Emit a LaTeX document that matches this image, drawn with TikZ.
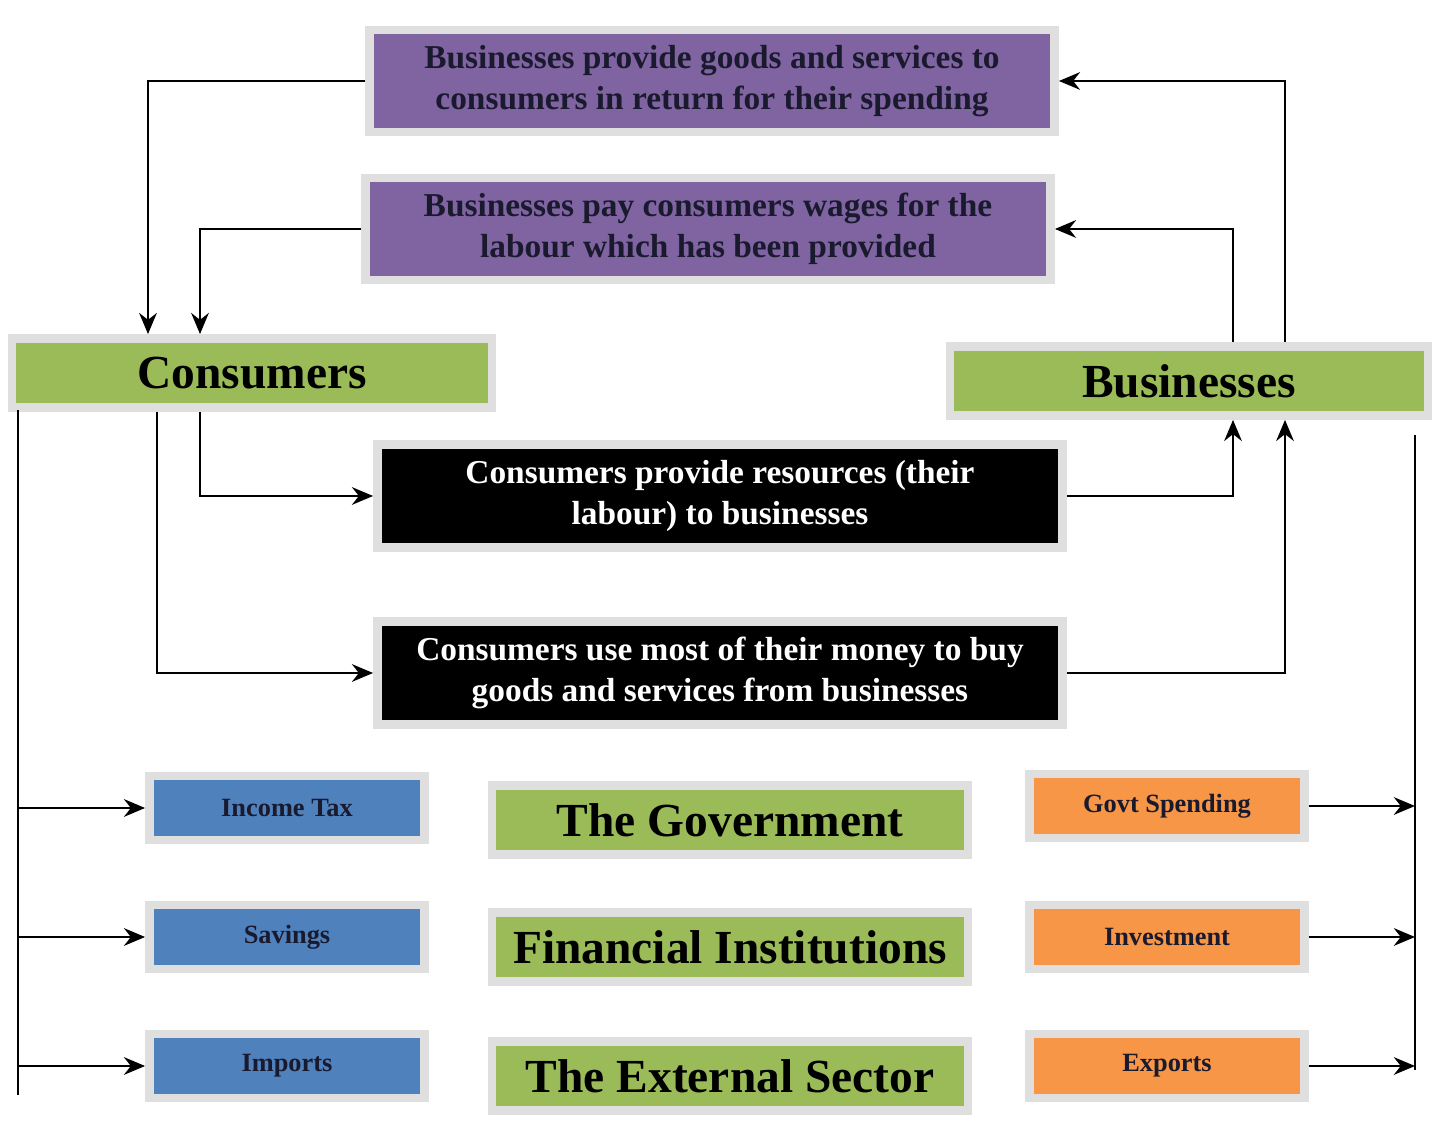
\documentclass[tikz,border=0pt]{standalone}
\usepackage{fontspec}
\setmainfont{Liberation Serif}
\usetikzlibrary{positioning,arrows.meta}
\definecolor{purplebox}{HTML}{8064A2}
\definecolor{greenbox}{HTML}{9BBB59}
\definecolor{bluebox}{HTML}{4F81BD}
\definecolor{orangebox}{HTML}{F79646}
\definecolor{inktext}{HTML}{1A1A2E}
\tikzset{
  box/.style={draw=gray!25, line width=2.5pt, inner sep=0pt, align=center, font=\bfseries},
  flowbox/.style={box, fill=purplebox, text=inktext, minimum width=6.85cm, minimum height=1.02cm, font=\bfseries\fontsize{9.5}{11.5}\selectfont},
  darkbox/.style={box, fill=black, text=white, minimum width=6.85cm, minimum height=1.03cm, font=\bfseries\fontsize{9.5}{11.5}\selectfont},
  sectorbox/.style={box, fill=greenbox, text=black, minimum width=4.76cm, minimum height=0.69cm, font=\bfseries\fontsize{13.5}{15}\selectfont},
  leakbox/.style={box, fill=bluebox, text=inktext, minimum width=2.75cm, minimum height=0.64cm, font=\bfseries\fontsize{7.5}{9}\selectfont},
  injectbox/.style={box, fill=orangebox, text=inktext, minimum width=2.75cm, minimum height=0.64cm, font=\bfseries\fontsize{7.5}{9}\selectfont},
  flow/.style={-{Stealth[length=6pt,width=5pt]}, thick}
}
\begin{document}
\begin{tikzpicture}
          \useasboundingbox[fill=white] (0,0) rectangle (14.4,11.4);
          % Define the flow boxes
          \node[flowbox] (goods) at (7.12,10.59) {Businesses provide goods and services to\\consumers in return for their spending};
          \node[flowbox] (wages) at (7.08,9.11) {Businesses pay consumers wages for the\\labour which has been provided};
          \node[darkbox] (labour) at (7.2,6.44) {Consumers provide resources (their\\labour) to businesses};
          \node[darkbox] (spend) at (7.2,4.67) {Consumers use most of their money to buy\\goods and services from businesses};

          % Define the sector boxes
          \node[sectorbox, minimum width=4.8cm] (cons) at (2.52,7.67) {Consumers};
          \node[sectorbox, minimum width=4.78cm] (bus) at (11.89,7.59) {Businesses};
          \node[sectorbox] (gov) at (7.3,3.2) {The Government};
          \node[sectorbox] (fin) at (7.3,1.93) {Financial Institutions};
          \node[sectorbox] (ext) at (7.3,0.64) {The External Sector};

          % Define the leakages and injections
          \node[leakbox] (tax) at (2.87,3.32) {Income Tax};
          \node[leakbox] (sav) at (2.87,2.03) {Savings};
          \node[leakbox] (imp) at (2.87,0.74) {Imports};
          \node[injectbox] (govsp) at (11.67,3.34) {Govt Spending};
          \node[injectbox] (inv) at (11.67,2.03) {Investment};
          \node[injectbox] (exp) at (11.67,0.74) {Exports};

          % Connector ends on the left and right rails
          \coordinate (lrailtop) at (0.18,7.3);
          \coordinate (lrailbot) at (0.18,0.45);
          \coordinate (rrailtop) at (14.15,7.05);
          \coordinate (rrailbot) at (14.15,0.7);

          % Draw the arrows round the circular flow
          \draw[flow] (goods.west) -| ([xshift=-1.04cm]cons.north);
          \draw[flow] (wages.west) -| ([xshift=-0.52cm]cons.north);
          \draw[flow] ([xshift=0.96cm]bus.north) |- (goods.east);
          \draw[flow] ([xshift=0.44cm]bus.north) |- (wages.east);
          \draw[flow] ([xshift=-0.52cm]cons.south) |- (labour.west);
          \draw[flow] ([xshift=-0.95cm]cons.south) |- (spend.west);
          \draw[flow] (labour.east) -| ([xshift=0.44cm]bus.south);
          \draw[flow] (spend.east) -| ([xshift=0.96cm]bus.south);

          % Draw the rails and the leakages and injections
          \draw[thick] (lrailtop) -- (lrailbot);
          \draw[thick] (rrailtop) -- (rrailbot);
          \draw[flow] (lrailtop |- tax) -- (tax.west);
          \draw[flow] (lrailtop |- sav) -- (sav.west);
          \draw[flow] (lrailtop |- imp) -- (imp.west);
          \draw[flow] (govsp.east) -- (rrailtop |- govsp);
          \draw[flow] (inv.east) -- (rrailtop |- inv);
          \draw[flow] (exp.east) -- (rrailtop |- exp);

          \end{tikzpicture}
\end{document}
